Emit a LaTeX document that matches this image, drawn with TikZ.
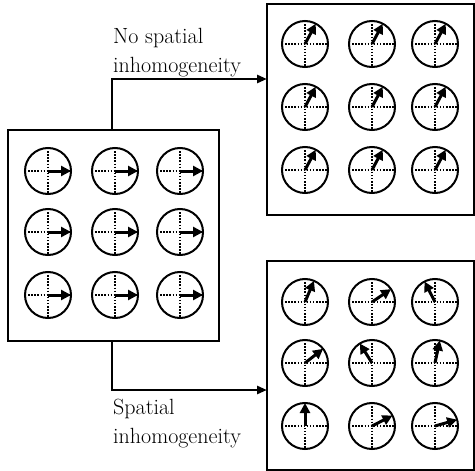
\documentclass[tikz,border=0pt]{standalone}
\usetikzlibrary{arrows.meta}
\begin{document}
\begin{tikzpicture}[x=1pt,y=-1pt,
  frame/.style={draw,line width=2pt,minimum width=#1,minimum height=211pt,inner sep=0pt,outer sep=0pt},
  dial/.style={circle,draw,line width=2pt,minimum size=46pt,inner sep=0pt,outer sep=0pt},
  axis/.style={line width=1.4pt,dash pattern=on 1.4pt off 1.7pt},
  spin/.style={line width=3pt,-{Triangle[length=10pt,width=10pt]}},
  conn/.style={line width=2.6pt,-{Triangle[length=10pt,width=8pt]}},
  lab/.style={font=\fontsize{22}{29}\selectfont,align=left,inner sep=0pt,anchor=base west}]
\useasboundingbox (0,0) rectangle (475,471);

% the three panels
\node[frame=211pt] (L)  at (113.5,235.5) {};
\node[frame=207pt] (TR) at (370.5,109.5) {};
\node[frame=207pt,minimum height=209pt] (BR) at (370.5,365.5) {};

% one dial: name, centre, direction of the arrow (degrees)
\newcommand{\dialat}[4]{%
  \node[dial] (#1) at (#2,#3) {};
  \draw[axis] (#1.west) -- (#1.east);
  \draw[axis] (#1.north) -- (#1.south);
  \draw[spin] (#1.center) -- (#1.#4);
}

% initial state: all arrows aligned
\foreach \c/\x in {1/48,2/115,3/180}{
  \foreach \r/\y in {1/171,2/232,3/295}{
    \dialat{l\r\c}{\x}{\y}{0}
  }
}

% without inhomogeneity: uniform rotation
\foreach \c/\x in {1/305,2/372,3/435}{
  \foreach \r/\y in {1/44,2/107,3/170}{
    \dialat{t\r\c}{\x}{\y}{62}
  }
}

% with inhomogeneity: dephased arrows
\foreach \c/\x/\r/\y/\a in {
  1/305/1/302/67, 2/372/1/302/34, 3/435/1/302/117,
  1/305/2/363/38, 2/372/2/363/122, 3/435/2/363/78,
  1/305/3/426/90, 2/372/3/426/27, 3/435/3/426/16}{
  \dialat{b\r\c}{\x}{\y}{\a}
}

% connectors
\coordinate (bendT) at (112,79);
\coordinate (bendB) at (112,390);
\draw[conn] (L.north -| bendT) -- (bendT) -- (bendT -| TR.west);
\draw[conn] (L.south -| bendB) -- (bendB) -- (bendB -| BR.west);

% labels (anchored at the baseline of their last line)
\node[lab] (labT) at (113,72) {No spatial\\inhomogeneity};
\node[lab] (labB) at (113,443) {Spatial\\inhomogeneity};
\end{tikzpicture}
\end{document}
